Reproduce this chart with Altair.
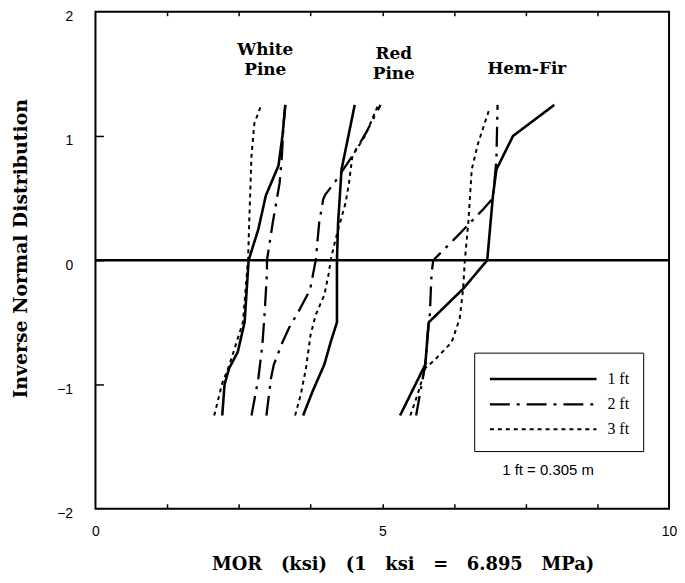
import altair as alt
import pandas as pd

lengths = ["1 ft", "2 ft", "3 ft"]
species_names = ["White Pine", "Red Pine", "Hem-Fir"]

# White Pine
wp1_x = [2.21, 2.25, 2.33, 2.48, 2.60, 2.67, 2.84, 2.97, 3.19, 3.26, 3.31]
wp1_y = [-1.25, -1.0, -0.87, -0.74, -0.5, 0.0, 0.25, 0.52, 0.76, 1.0, 1.25]
wp2_x = [2.72, 2.84, 2.91, 2.95, 2.99, 2.99, 3.09, 3.21, 3.25, 3.28, 3.31]
wp2_y = [-1.25, -0.95, -0.68, -0.42, -0.1, 0.0, 0.30, 0.62, 0.84, 1.1, 1.25]
wp3_x = [2.07, 2.14, 2.21, 2.33, 2.57, 2.66, 2.68, 2.70, 2.72, 2.77, 2.89]
wp3_y = [-1.25, -1.12, -0.99, -0.85, -0.5, 0.0, 0.3, 0.57, 0.84, 1.1, 1.25]

# Red Pine
rp1_x = [3.62, 3.79, 3.99, 4.10, 4.21, 4.21, 4.23, 4.29, 4.52]
rp1_y = [-1.25, -1.05, -0.84, -0.66, -0.5, 0.0, 0.30, 0.73, 1.25]
rp2_x = [2.98, 3.06, 3.11, 3.26, 3.38, 3.52, 3.74, 3.79, 3.84, 3.90, 3.97, 4.01, 4.16, 4.45, 4.71, 4.97]
rp2_y = [-1.25, -0.95, -0.84, -0.66, -0.54, -0.43, -0.24, -0.12, 0.0, 0.30, 0.49, 0.53, 0.62, 0.82, 1.02, 1.25]
rp3_x = [3.48, 3.58, 3.67, 3.75, 3.84, 3.99, 4.07, 4.10, 4.16, 4.25, 4.36, 4.42, 4.48, 4.70, 4.93]
rp3_y = [-1.25, -1.08, -0.87, -0.6, -0.44, -0.28, -0.1, 0.0, 0.12, 0.28, 0.46, 0.62, 0.84, 1.0, 1.25]

# Hem-Fir
hf1_x = [5.31, 5.75, 5.81, 6.41, 6.83, 6.93, 6.99, 7.28, 8.0]
hf1_y = [-1.25, -0.84, -0.5, -0.23, 0.0, 0.52, 0.73, 1.0, 1.25]
hf2_x = [5.59, 5.75, 5.79, 5.83, 5.86, 5.89, 6.30, 6.76, 6.93, 6.99, 7.01]
hf2_y = [-1.25, -0.84, -0.6, -0.43, -0.1, 0.0, 0.19, 0.41, 0.5, 0.81, 1.25]
hf3_x = [5.49, 5.63, 5.75, 5.92, 6.21, 6.35, 6.41, 6.44, 6.50, 6.56, 6.67, 6.87]
hf3_y = [-1.25, -1.06, -0.87, -0.8, -0.66, -0.47, -0.23, 0.0, 0.30, 0.73, 0.94, 1.22]

curves = [
    ("White Pine", "1 ft", wp1_x, wp1_y),
    ("White Pine", "2 ft", wp2_x, wp2_y),
    ("White Pine", "3 ft", wp3_x, wp3_y),
    ("Red Pine", "1 ft", rp1_x, rp1_y),
    ("Red Pine", "2 ft", rp2_x, rp2_y),
    ("Red Pine", "3 ft", rp3_x, rp3_y),
    ("Hem-Fir", "1 ft", hf1_x, hf1_y),
    ("Hem-Fir", "2 ft", hf2_x, hf2_y),
    ("Hem-Fir", "3 ft", hf3_x, hf3_y),
]

rows = []
for sp, ln, xs, ys in curves:
    for i, (xv, yv) in enumerate(zip(xs, ys)):
        rows.append({"species": sp, "length": ln, "mor": xv, "z": yv, "i": i})
df = pd.DataFrame(rows)

# annotation labels
label_text = ["White\nPine", "Red\nPine", "Hem-Fir"]
label_x = [2.96, 5.2, 7.52]
label_y = [1.69, 1.66, 1.54]
lab_df = pd.DataFrame({"t": label_text, "x": label_x, "z": label_y})

note_text = ["1 ft = 0.305 m"]
note_x = [7.89]
note_y = [-1.69]
note_df = pd.DataFrame({"t": note_text, "x": note_x, "z": note_y})

x_ticks = [1.25, 2.5, 3.75, 5, 6.25, 7.5, 8.75]
x_labels = [0, 5, 10]
y_labels = [-2, -1, 0, 1, 2]
y_ticks = [-1, 0, 1]

W, H = 577, 500
xs_ = alt.Scale(domain=[0, 10], nice=False, zero=False)
ys_ = alt.Scale(domain=[-2, 2], nice=False, zero=False)

sp3 = "\u00a0\u00a0 "
x_title = sp3.join(["MOR", "(ksi)", "(1", "ksi", "=", "6.895", "MPa)"])

lines = alt.Chart(df).mark_line(color="black").encode(
    x=alt.X("mor:Q", scale=xs_, axis=alt.Axis(values=x_labels, ticks=False, labelFlush=False,
                                              labelPadding=16, title=x_title, titleX=309, titleY=56,
                                              titleBaseline="middle", titleFontSize=18)),
    y=alt.Y("z:Q", scale=ys_, axis=alt.Axis(values=y_labels, ticks=False, labelFlush=False,
                                            labelPadding=23, labelBaseline="middle", labelOffset=5,
                                            title="Inverse Normal Distribution", titleX=-75, titleY=238,
                                            titleBaseline="middle", titleFontSize=19)),
    strokeDash=alt.StrokeDash("length:N",
                              scale=alt.Scale(domain=lengths, range=[[1, 0], [20, 7, 3, 7], [4, 4]]),
                              legend=alt.Legend(title=None, orient="none", legendX=381, legendY=343,
                                                symbolType="M-1,0H9", symbolSize=460,
                                                symbolStrokeWidth=2, symbolStrokeColor="black",
                                                labelOffset=95, labelFont="Liberation Serif",
                                                labelFontSize=16, labelColor="black",
                                                strokeColor="black", padding=14, rowPadding=5,
                                                fillColor="white")),
    strokeWidth=alt.StrokeWidth("length:N", scale=alt.Scale(domain=lengths, range=[2.6, 2.0, 2.0]),
                                legend=None),
    detail="species:N",
    order="i:Q",
)

zero = alt.Chart(pd.DataFrame({"z": [0]})).mark_rule(color="black", strokeWidth=2.5).encode(
    y=alt.Y("z:Q", scale=ys_, axis=alt.Axis(orient="right", offset=-W, values=y_ticks, labels=False,
                                            ticks=True, tickSize=8, tickWidth=1.5, tickColor="black",
                                            title=None))
)

labels = alt.Chart(lab_df).mark_text(font="DejaVu Serif", fontWeight="bold", fontSize=17,
                                     lineBreak="\n", lineHeight=20, color="black",
                                     baseline="middle", align="center").encode(
    x=alt.X("x:Q", scale=xs_, axis=alt.Axis(orient="top", offset=-H, values=x_ticks, labels=False,
                                            ticks=True, tickSize=5, tickWidth=1.5, tickColor="black",
                                            title=None)),
    y=alt.Y("z:Q", scale=ys_, axis=None),
    text="t:N",
)

note = alt.Chart(note_df).mark_text(font="Liberation Sans", fontSize=15, color="black",
                                    baseline="middle", align="center").encode(
    x=alt.X("x:Q", scale=xs_, axis=alt.Axis(orient="bottom", offset=-H, values=x_ticks, labels=False,
                                            ticks=True, tickSize=4, tickWidth=1.5, tickColor="black",
                                            title=None)),
    y=alt.Y("z:Q", scale=ys_, axis=None),
    text="t:N",
)

chart = alt.layer(lines, zero, labels, note).resolve_axis(x="independent", y="independent").properties(
    width=W, height=H,
    autosize=alt.AutoSizeParams(type="none"),
    padding={"left": 88, "top": 2, "right": 8, "bottom": 70},
    background="white",
).configure_view(stroke="black", strokeWidth=2).configure_axis(
    grid=False, domain=False, labelFont="Liberation Sans", labelFontSize=14, labelColor="black",
    titleFont="DejaVu Serif", titleFontSize=17, titleFontWeight="bold", titleColor="black",
)

chart.save("out.html", embed_options={"renderer": "svg", "actions": False})
